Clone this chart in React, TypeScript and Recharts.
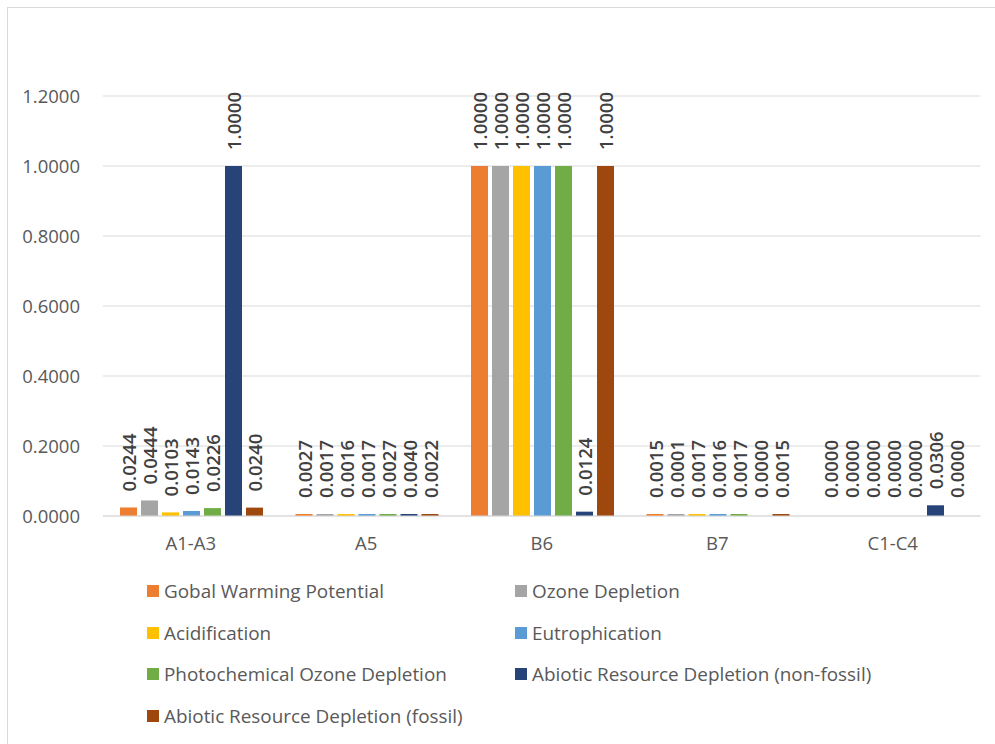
import { Bar, BarChart, CartesianGrid, LabelList, Rectangle, XAxis, YAxis } from "recharts";

const stages = ["A1-A3", "A5", "B6", "B7", "C1-C4"];

const globalWarming = [0.0244, 0.0027, 1.0, 0.0015, 0.0];
const ozoneDepletion = [0.0444, 0.0017, 1.0, 0.0001, 0.0];
const acidification = [0.0103, 0.0016, 1.0, 0.0017, 0.0];
const eutrophication = [0.0143, 0.0017, 1.0, 0.0016, 0.0];
const photochemical = [0.0226, 0.0027, 1.0, 0.0017, 0.0];
const abioticNonFossil = [1.0, 0.004, 0.0124, 0.0, 0.0306];
const abioticFossil = [0.024, 0.0022, 1.0, 0.0015, 0.0];

const yTicks = [0, 0.2, 0.4, 0.6, 0.8, 1.0, 1.2];

const SERIES = [
  { key: "gwp", name: "Gobal Warming Potential", color: "#ED7D31", values: globalWarming },
  { key: "odp", name: "Ozone Depletion", color: "#A5A5A5", values: ozoneDepletion },
  { key: "ap", name: "Acidification", color: "#FFC000", values: acidification },
  { key: "ep", name: "Eutrophication", color: "#5B9BD5", values: eutrophication },
  { key: "pocp", name: "Photochemical Ozone Depletion", color: "#70AD47", values: photochemical },
  { key: "adpe", name: "Abiotic Resource Depletion (non-fossil)", color: "#264478", values: abioticNonFossil },
  { key: "adpf", name: "Abiotic Resource Depletion (fossil)", color: "#9E480E", values: abioticFossil },
];

const data = stages.map((stage, i) => {
  const row: Record<string, string | number> = { stage };
  SERIES.forEach((s) => {
    row[s.key] = s.values[i];
  });
  return row;
});

const FONT = "'Open Sans', sans-serif";
const FONT_SIZE = 18.5;

function VerticalLabel(props: any) {
  const { x, y, width, value } = props;
  const cx = x + width / 2;
  const ty = y - 16;
  return (
    <text
      x={cx}
      y={ty}
      transform={`rotate(-90 ${cx} ${ty})`}
      textAnchor="start"
      dominantBaseline="central"
      fill="#404040"
      fontSize={FONT_SIZE}
      fontWeight={600}
      fontFamily={FONT}
    >
      {Number(value).toFixed(4)}
    </text>
  );
}

// zero values keep their label but draw no bar
const makeShape = (key: string) => (props: any) => {
  if (!props.payload || props.payload[key] === 0) return <g />;
  return <Rectangle {...props} />;
};

export default function App() {
  return (
    <div
      style={{
        position: "absolute",
        left: 0,
        top: 0,
        width: 995,
        height: 744,
        background: "#fff",
        overflow: "hidden",
        fontFamily: FONT,
      }}
    >
      <div
        style={{
          position: "absolute",
          left: 7,
          top: 7,
          width: 1100,
          height: 900,
          borderLeft: "1px solid #d9d9d9",
          borderTop: "1px solid #d9d9d9",
        }}
      />
      <div style={{ position: "absolute", left: 0, top: 0 }}>
        <BarChart
          width={995}
          height={744}
          data={data}
          margin={{ top: 96, right: 14.5, left: 0, bottom: 0 }}
          barCategoryGap={17}
          barGap={4}
        >
          <CartesianGrid vertical={false} stroke="#d9d9d9" strokeWidth={1} />
          <XAxis
            dataKey="stage"
            height={228}
            axisLine={{ stroke: "#d9d9d9" }}
            tickLine={false}
            tickMargin={15}
            tick={{ fill: "#595959", fontSize: FONT_SIZE, fontFamily: FONT }}
          />
          <YAxis
            width={103}
            domain={[0, 1.2]}
            ticks={yTicks}
            axisLine={false}
            tickLine={false}
            tickSize={0}
            tickMargin={23}
            tick={{ fill: "#595959", fontSize: FONT_SIZE, fontFamily: FONT }}
            tickFormatter={(v: number) => v.toFixed(4)}
          />
          {SERIES.map((s) => (
            <Bar
              key={s.key}
              dataKey={s.key}
              name={s.name}
              fill={s.color}
              minPointSize={2}
              shape={makeShape(s.key)}
              isAnimationActive={false}
            >
              <LabelList dataKey={s.key} content={VerticalLabel} />
            </Bar>
          ))}
        </BarChart>
      </div>
      <div
        style={{
          position: "absolute",
          left: 147,
          top: 570,
          display: "grid",
          gridTemplateColumns: "368px 368px",
          rowGap: 0,
        }}
      >
        {SERIES.map((s) => (
          <div
            key={s.key}
            style={{
              display: "flex",
              alignItems: "center",
              height: 41.7,
              color: "#595959",
              fontSize: 18.9,
              lineHeight: "20px",
              whiteSpace: "nowrap",
            }}
          >
            <span
              style={{
                display: "inline-block",
                width: 12,
                height: 12,
                background: s.color,
                marginRight: 5,
              }}
            />
            {s.name}
          </div>
        ))}
      </div>
    </div>
  );
}
